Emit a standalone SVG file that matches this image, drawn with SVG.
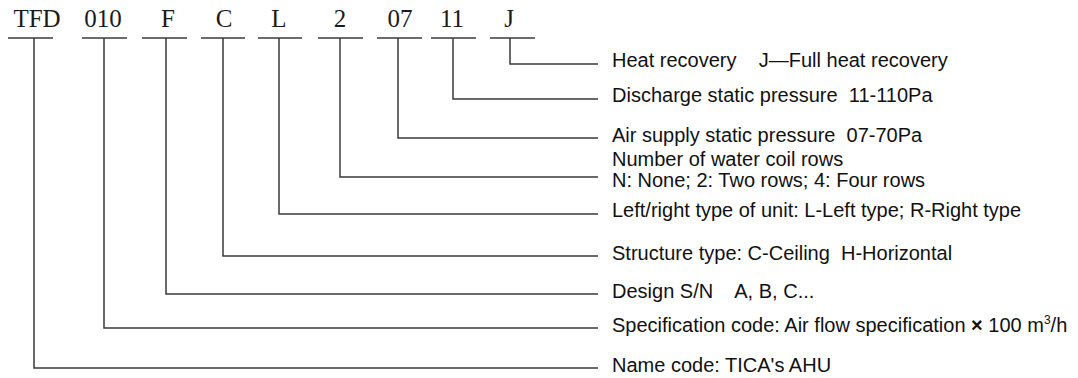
<svg xmlns="http://www.w3.org/2000/svg" width="1078" height="378" viewBox="0 0 1078 378">
<style>
.code{font-family:"Liberation Serif","Times New Roman",serif;font-size:25px;fill:#1a1a1a;text-anchor:middle}
.lbl{font-family:"Liberation Sans",Arial,sans-serif;font-size:20px;fill:#111}
.ln{stroke:#3a3a3a;stroke-width:1.5;fill:none}
</style>
<rect width="1078" height="378" fill="#fff"/>
<g id="node-TFD"><text class="code" x="37" y="27">TFD</text><line class="ln" x1="8" y1="38" x2="53" y2="38"/><text class="lbl" x="612" y="372">Name code: TICA's AHU</text></g>
<g id="node-010"><text class="code" x="103" y="27">010</text><line class="ln" x1="82" y1="38" x2="127" y2="38"/><text class="lbl" x="612" y="332">Specification code: Air flow specification <tspan font-weight="bold">×</tspan> 100 m<tspan dy="-8" font-size="12">3</tspan><tspan dy="8">/h</tspan></text></g>
<g id="node-F"><text class="code" x="168" y="27">F</text><line class="ln" x1="142" y1="38" x2="187" y2="38"/><text class="lbl" x="612" y="298" xml:space="preserve">Design S/N    A, B, C...</text></g>
<g id="node-C"><text class="code" x="224" y="27">C</text><line class="ln" x1="201" y1="38" x2="245" y2="38"/><text class="lbl" x="612" y="260" xml:space="preserve">Structure type: C-Ceiling  H-Horizontal</text></g>
<g id="node-L"><text class="code" x="279" y="27">L</text><line class="ln" x1="258" y1="38" x2="302" y2="38"/><text class="lbl" x="612" y="217">Left/right type of unit: L-Left type; R-Right type</text></g>
<g id="node-2"><text class="code" x="340" y="27">2</text><line class="ln" x1="318" y1="38" x2="363" y2="38"/><text class="lbl" x="612" y="166">Number of water coil rows</text><text class="lbl" x="612" y="187">N: None; 2: Two rows; 4: Four rows</text></g>
<g id="node-07"><text class="code" x="400" y="27">07</text><line class="ln" x1="377" y1="38" x2="422" y2="38"/><text class="lbl" x="612" y="142" xml:space="preserve">Air supply static pressure  07-70Pa</text></g>
<g id="node-11"><text class="code" x="452" y="27">11</text><line class="ln" x1="431" y1="38" x2="476" y2="38"/><text class="lbl" x="612" y="102" xml:space="preserve">Discharge static pressure  11-110Pa</text></g>
<g id="node-J"><text class="code" x="509" y="27">J</text><line class="ln" x1="490" y1="38" x2="535" y2="38"/><text class="lbl" x="612" y="67" xml:space="preserve">Heat recovery    J—Full heat recovery</text></g>
<g id="connectors">
<polyline class="ln" points="34,38 34,368 598,368"/>
<polyline class="ln" points="104,38 104,328 598,328"/>
<polyline class="ln" points="166,38 166,294 598,294"/>
<polyline class="ln" points="223,38 223,256 598,256"/>
<polyline class="ln" points="279,38 279,214 598,214"/>
<polyline class="ln" points="340,38 340,177 598,177"/>
<polyline class="ln" points="398,38 398,138 598,138"/>
<polyline class="ln" points="453,38 453,99 598,99"/>
<polyline class="ln" points="510,38 510,64 598,64"/>
</g>
</svg>
